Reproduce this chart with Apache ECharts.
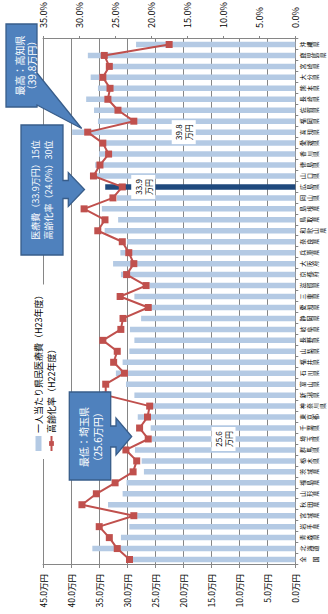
<!DOCTYPE html>
<html>
<head>
<meta charset="utf-8">
<script src="https://cdn.jsdelivr.net/npm/echarts@6/dist/echarts.min.js"></script>
<style>
html,body{margin:0;padding:0;width:328px;height:614px;overflow:hidden;background:#fff;}
#chart{position:absolute;left:0;top:0;width:614px;height:328px;transform-origin:0 0;transform:translateY(614px) rotate(-90deg);}
</style>
</head>
<body>
<div id="chart"></div>
<script>
// ---- data ----
const categories = ['全　国','北海道','青森県','岩手県','宮城県','秋田県','山形県','福島県','茨城県','栃木県','群馬県','埼玉県','千葉県','東京都','神奈川県','新潟県','富山県','石川県','福井県','山梨県','長野県','岐阜県','静岡県','愛知県','三重県','滋賀県','京都府','大阪府','兵庫県','奈良県','和歌山県','鳥取県','島根県','岡山県','広島県','山口県','徳島県','香川県','愛媛県','高知県','福岡県','佐賀県','長崎県','熊本県','大分県','宮崎県','鹿児島県','沖縄県'];
// 一人当たり県民医療費（H23年度, 万円）
const medicalCost = [30.2,36.2,31.1,29.6,28.2,33.4,30.8,30.1,27.0,27.4,28.6,25.6,25.8,28.1,26.4,28.7,30.2,32.0,30.8,29.6,28.7,29.5,27.5,26.0,28.7,26.0,31.1,32.5,31.2,30.0,34.0,31.6,34.5,31.8,33.9,35.8,35.7,35.0,34.9,39.8,35.2,35.9,37.3,35.2,36.5,33.5,37.0,28.4];
// 高齢化率（H22年度, %）
const agingRate = [23.0,24.7,25.8,27.2,22.4,29.6,27.6,25.0,22.5,22.0,23.5,20.4,21.6,20.5,20.2,26.3,26.3,23.7,25.2,24.7,26.7,24.2,23.9,20.4,24.3,20.7,23.4,22.4,23.1,24.0,27.4,26.4,29.3,25.3,24.0,28.0,27.1,25.9,26.7,28.8,22.4,24.6,26.0,25.7,26.7,25.8,26.5,17.5];
const costAxis = {min: 0, max: 45, interval: 5};
const rateAxis = {min: 0, max: 35, interval: 5};
const seriesNames = ['一人当たり県民医療費（H23年度）', '高齢化率（H22年度）'];
const highlightCat = '広島県';
const labelCats = ['高知県', '広島県', '埼玉県'];
const calloutTexts = [
  '最高：高知県\n（39.8万円）',
  '医療費（33.9万円）15位\n高齢化率（24.0%）30位',
  '最低：埼玉県\n（25.6万円）'
];

// ---- chart ----
const FONT = "'Noto Sans CJK JP', 'Noto Sans', sans-serif";
const chart = echarts.init(document.getElementById('chart'), null, {renderer: 'svg', width: 614, height: 328});

const labelStyle = {
  show: true,
  color: '#000',
  fontSize: 8,
  lineHeight: 10,
  fontFamily: FONT,
  backgroundColor: '#fff',
  padding: [2, 4],
  formatter: p => p.value.toFixed(1) + '\n万円'
};

const barData = medicalCost.map((v, i) => {
  const item = {value: v};
  const c = categories[i];
  if (c === highlightCat) item.itemStyle = {color: '#1F497D'};
  if (labelCats.includes(c)) {
    item.label = Object.assign({}, labelStyle,
      c === highlightCat ? {position: 'insideTop', distance: 26} : {position: 'inside'});
  }
  return item;
});

const calloutFill = '#4F81BD';
const calloutStroke = '#385D8A';
const txt = (text, x, y, size, lh) => ({
  type: 'text', z: 100,
  style: {text, x, y, fill: '#fff', fontSize: size, fontFamily: FONT, lineHeight: lh,
    textAlign: 'center', textVerticalAlign: 'middle', align: 'center', verticalAlign: 'middle'}
});

chart.setOption({
  animation: false,
  backgroundColor: '#fff',
  textStyle: {fontFamily: FONT},
  grid: {left: 49, right: 39, top: 43, bottom: 32.7, containLabel: false, outerBoundsMode: 'none'},
  legend: {
    data: [{name: seriesNames[0], icon: 'rect'}, {name: seriesNames[1]}],
    orient: 'vertical',
    left: 155, top: 30,
    padding: [3, 6, 3, 7],
    itemGap: 2,
    itemWidth: 15, itemHeight: 6,
    backgroundColor: '#fff',
    textStyle: {fontSize: 9, color: '#000', fontFamily: FONT, lineHeight: 11, padding: [0,0,0,-2]}
  },
  xAxis: {
    type: 'category',
    data: categories,
    axisLine: {lineStyle: {color: '#868686'}},
    axisTick: {show: true, length: 3, lineStyle: {color: '#868686'}},
    axisLabel: {
      interval: 0, fontSize: 6, lineHeight: 6.5, color: '#000', margin: 4,
      fontFamily: FONT, verticalAlign: 'top',
      formatter: v => v.split('').join('\n')
    }
  },
  yAxis: [
    {
      type: 'value', position: 'left',
      min: costAxis.min, max: costAxis.max, interval: costAxis.interval,
      axisLine: {show: true, lineStyle: {color: '#868686'}},
      axisTick: {show: true, length: 3, lineStyle: {color: '#868686'}},
      axisLabel: {fontSize: 8.5, color: '#000', margin: 9, fontFamily: FONT,
        formatter: v => v.toFixed(1) + '万円'},
      splitLine: {show: true, lineStyle: {color: '#868686', width: 1}}
    },
    {
      type: 'value', position: 'right',
      min: rateAxis.min, max: rateAxis.max, interval: rateAxis.interval,
      axisLine: {show: true, lineStyle: {color: '#868686'}},
      axisTick: {show: true, length: 3, lineStyle: {color: '#868686'}},
      axisLabel: {fontSize: 9, color: '#000', margin: 11, fontFamily: FONT,
        formatter: v => v.toFixed(1) + '%'},
      splitLine: {show: false}
    }
  ],
  series: [
    {
      name: seriesNames[0], type: 'bar', yAxisIndex: 0,
      data: barData, barWidth: 5.5,
      itemStyle: {color: '#B4CAE4'},
      z: 2
    },
    {
      name: seriesNames[1], type: 'line', yAxisIndex: 1,
      data: agingRate,
      symbol: 'rect', symbolSize: 7,
      lineStyle: {color: '#C0504D', width: 2},
      itemStyle: {color: '#C0504D'},
      z: 3
    }
  ],
  graphic: [
    // callout 1 (max)
    {type: 'polygon', z: 99, shape: {points: [[507,6],[590,6],[590,37],[541,37],[485.5,81.7],[509,37],[507,37]]},
      style: {fill: calloutFill, stroke: calloutStroke, lineWidth: 1.3}},
    txt(calloutTexts[0], 548.5, 25.5, 10, 11.5),
    // callout 2 (Hiroshima)
    {type: 'polygon', z: 99, shape: {points: [[359,21],[489,21],[489,63],[433.5,63],[433.5,68.3],[441.5,68.3],[424.5,84.5],[407.5,68.3],[415.5,68.3],[415.5,63],[359,63]]},
      style: {fill: calloutFill, stroke: calloutStroke, lineWidth: 1.3}},
    txt(calloutTexts[1], 424, 41.5, 9, 13),
    // callout 3 (min)
    {type: 'polygon', z: 99, shape: {points: [[134,69.3],[222,69.3],[222,110.7],[188,110.7],[188,116],[196,116],[177.5,131.7],[159,116],[167,116],[167,110.7],[134,110.7]]},
      style: {fill: calloutFill, stroke: calloutStroke, lineWidth: 1.3}},
    txt(calloutTexts[2], 177, 90, 10, 14)
  ]
});
</script>
</body>
</html>
